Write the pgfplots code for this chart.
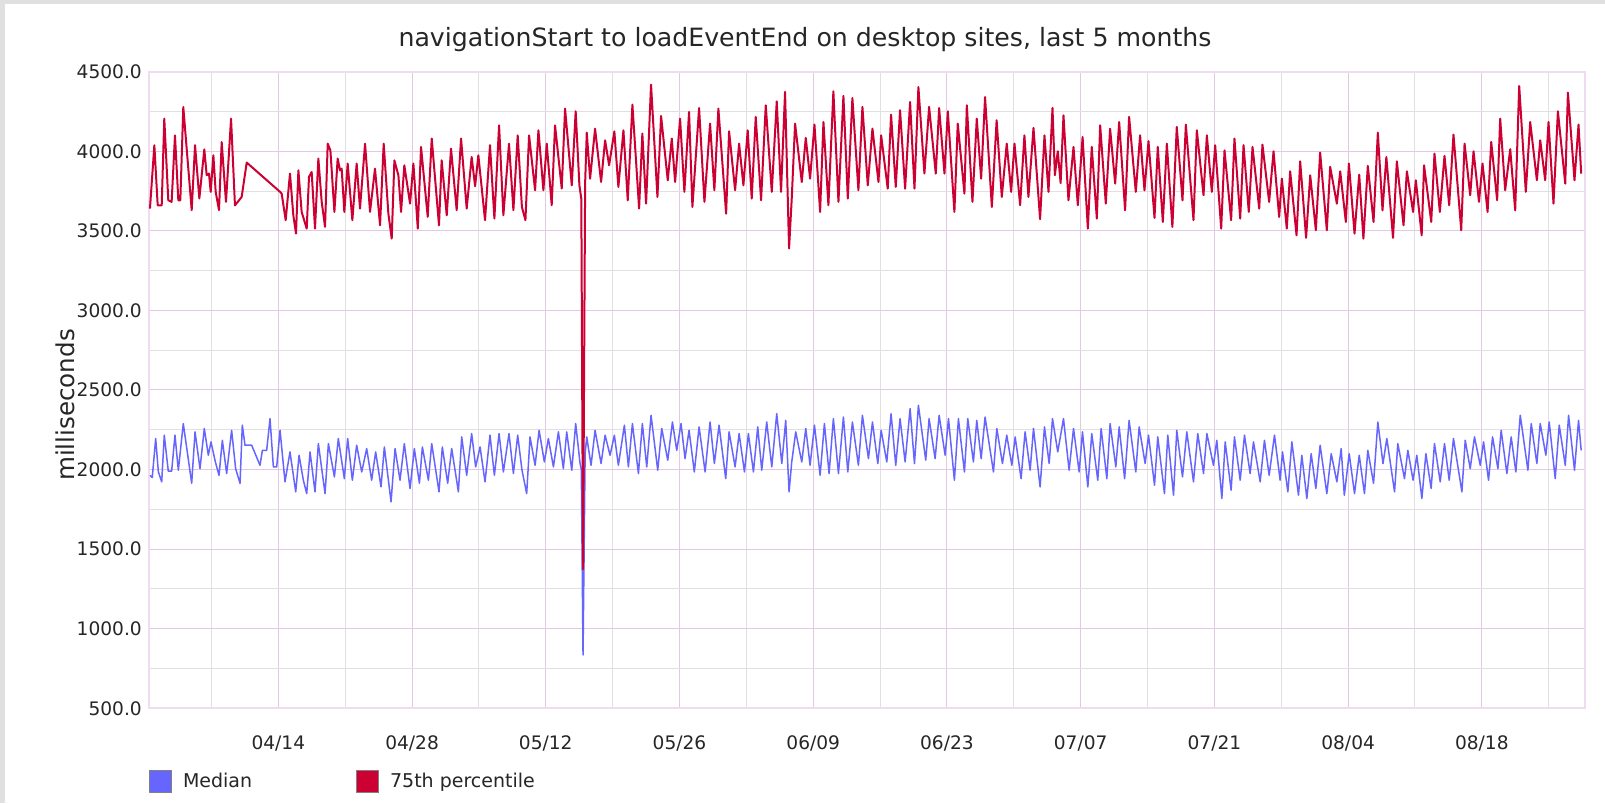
\documentclass[border=0pt]{standalone}
\usepackage{fontspec}
\setmainfont{DejaVu Sans}
\usepackage{pgfplots}
\pgfplotsset{compat=1.18}
\definecolor{medblue}{RGB}{102,102,255}
\definecolor{pctred}{RGB}{204,0,51}
\definecolor{gridmaj}{RGB}{226,200,226}
\definecolor{gridmin}{RGB}{226,222,226}
\definecolor{framec}{RGB}{240,220,240}
\definecolor{bordergray}{RGB}{224,224,224}
\begin{document}
\begin{tikzpicture}
\fill[bordergray] (0,0) rectangle (802.5pt,401.5pt);
\fill[white] (2.5pt,0) rectangle (802.5pt,399.5pt);
\useasboundingbox (0,0) rectangle (802.5pt,401.5pt);
\node[anchor=base, font=\fontsize{12.6}{15}\selectfont, text=black!85] at (402.5pt,378pt) {navigationStart to loadEventEnd on desktop sites, last 5 months};
\node[anchor=base, rotate=90, font=\fontsize{12.3}{15}\selectfont, text=black!85] at (37pt,199pt) {milliseconds};
\begin{axis}[
  at={(74.5pt,47.35pt)}, anchor=south west,
  scale only axis, width=718pt, height=318.3pt,
  xmin=-13.54, xmax=136.8, ymin=500, ymax=4500,
  xtick={0,14,...,126},
  xticklabels={04/14,04/28,05/12,05/26,06/09,06/23,07/07,07/21,08/04,08/18},
  minor xtick={-7,7,21,35,49,63,77,91,105,119,133},
  ytick={500,1000,...,4500},
  minor ytick={750,1250,...,4250},
  grid=both,
  major grid style={color=gridmaj, line width=0.5pt},
  minor grid style={color=gridmin, line width=0.5pt},
  axis line style={color=framec, line width=1pt},
  major tick length=0pt, minor tick length=0pt,
  tick style={draw=none},
  /pgf/number format/assume math mode=true,
  ticklabel style={font=\fontsize{9.3}{11}\selectfont, text=black!85},
  yticklabel style={anchor=east, inner sep=0pt, xshift=-3.4pt,
    /pgf/number format/fixed, /pgf/number format/fixed zerofill,
    /pgf/number format/precision=1, /pgf/number format/1000 sep={}},
  xticklabel style={anchor=base, yshift=-20.35pt},
  legend style={at={(rel axis cs:0,0)}, anchor=north west, yshift=-30.85pt,
    draw=none, fill=none, inner sep=0pt, outer sep=0pt,
    font=\fontsize{9.5}{11}\selectfont, text=black!85,
    /tikz/every even column/.append style={column sep=52pt},
    /tikz/every odd column/.append style={column sep=5.5pt},
    nodes={inner sep=0pt}},
  legend columns=2,
  legend cell align=left,
]
\addplot[color=medblue, line width=0.75pt, line join=round,
  legend image code/.code={\filldraw[fill=medblue, draw=gray, line width=0.5pt] (0pt,-5.5pt) rectangle (11pt,5.5pt);}]
coordinates {
(-13.44,1964)(-13.2,1950)(-12.84,2195)(-12.56,1985)(-12.21,1923)(-11.94,2216)(-11.52,1990)(-11.17,1990)(-10.82,2216)(-10.47,1996)(-9.95,2289)(-9.07,1914)(-8.72,2237)(-8.20,2006)(-7.75,2258)(-7.33,2090)(-7.05,2174)(-6.6,2050)(-6.21,1964)(-5.86,2184)(-5.41,1975)(-4.89,2247)(-4.47,2006)(-4.01,1914)(-3.77,2279)(-3.49,2153)(-2.79,2153)(-1.92,2027)(-1.67,2121)(-1.22,2121)(-0.87,2320)(-0.52,2017)(-0.17,2017)(0.18,2247)(0.70,1923)(1.22,2111)(1.82,1860)(2.17,2090)(2.62,1933)(2.97,1849)(3.32,2111)(3.84,1860)(4.19,2163)(4.89,1849)(5.24,2163)(5.87,1954)(6.28,2195)(6.91,1943)(7.26,2195)(7.75,1933)(8.20,2153)(8.73,1985)(9.25,2132)(9.77,1933)(10.19,2111)(10.75,1891)(11.10,2142)
(11.80,1797)(12.22,2132)(12.74,1933)(13.19,2163)(13.79,1881)(14.24,2132)(14.77,1914)(15.08,2142)(15.71,1933)(16.06,2163)(16.82,1860)(17.17,2142)(17.73,1914)(18.15,2132)(18.85,1860)(19.20,2205)(19.72,1964)(20.24,2226)(20.66,2017)(21.12,2142)(21.64,1923)(22.16,2216)(22.62,1964)(23.11,2226)(23.56,1985)(24.15,2226)(24.61,1975)(25.06,2216)(25.5,2000)(26.00,1849)(26.35,2205)(26.88,2027)(27.30,2247)(27.85,2048)(28.27,2195)(28.80,2017)(29.32,2237)(29.84,2006)(30.19,2237)(30.72,1996)(31.13,2289)(31.59,2038)(31.72,2000)(31.9,835)(32.12,2100)(32.29,2205)(32.74,2027)(33.16,2247)(33.79,2038)(34.21,2216)(34.73,2090)(35.18,2216)(35.60,2027)(36.23,2279)(36.65,2017)
(37.07,2289)(37.70,1975)(38.11,2289)(38.57,2017)(39.02,2341)(39.72,1996)(40.14,2258)(40.77,2059)(41.26,2299)(41.71,2121)(42.16,2289)(42.58,2069)(43.00,2247)(43.55,1985)(44.05,2268)(44.68,1985)(45.20,2299)(45.65,2038)(46.14,2279)(46.84,1943)(47.19,2237)(47.82,2017)(48.24,2226)(48.80,1985)(49.21,2226)(49.74,1985)(50.19,2268)(50.61,1996)(51.13,2299)(51.66,2017)(52.18,2351)(52.71,2038)(53.12,2309)(53.47,1860)(53.75,2048)(54.17,2237)(54.80,2048)(55.22,2258)(55.67,2027)(56.13,2279)(56.72,1964)(57.17,2289)(57.66,1975)(58.11,2320)(58.64,1975)(59.16,2330)(59.62,1985)(60.10,2299)(60.73,2027)(61.15,2341)(61.78,2069)
(62.20,2299)(62.76,2038)(63.11,2247)(63.70,2048)(64.15,2351)(64.64,2027)(65.09,2320)(65.62,2048)(66.14,2383)(66.60,2038)(67.01,2404)(67.78,2059)(68.13,2320)(68.76,2069)(69.18,2341)(69.81,2090)(70.16,2320)(70.78,1933)(71.20,2320)(71.83,1985)(72.18,2320)(72.77,2048)(73.12,2309)(73.58,2069)(73.99,2330)(74.87,1985)(75.22,2258)(75.81,2038)(76.26,2216)(76.79,2027)(77.14,2205)(77.76,1943)(78.18,2237)(78.71,1996)(79.06,2258)(79.75,1891)(80.21,2268)(80.70,2038)(81.05,2320)(81.60,2111)(82.20,2320)(82.79,1996)(83.25,2258)(83.84,1985)(84.19,2237)(84.75,1891)(85.16,2226)(85.79,1933)(86.14,2258)(86.74,1943)
(87.08,2289)(87.68,2017)(88.03,2268)(88.6,1943)(89.07,2309)(89.77,1985)(90.12,2268)(90.75,2038)(91.10,2216)(91.73,1902)(92.07,2205)(92.77,1849)(93.12,2216)(93.72,1839)(94.06,2247)(94.66,1954)(95.11,2237)(95.81,1923)(96.26,2226)(96.86,1975)(97.21,2226)(97.90,2027)(98.25,2184)(98.78,1818)(99.13,2174)(99.75,1870)(100.10,2205)(100.70,1933)(101.15,2216)(101.74,1975)(102.09,2174)(102.79,1923)(103.24,2184)(103.73,1964)(104.29,2216)(104.88,1933)(105.13,2111)(105.69,1860)(106.11,2174)(106.80,1839)(107.15,2090)(107.68,1818)(108.13,2100)(108.62,1881)(109.07,2153)(109.77,1849)(110.23,2100)(110.82,1923)(111.27,2132)(111.6,1839)
(112.11,2100)(112.67,1849)(113.16,2090)(113.71,1849)(114.06,2121)(114.66,1914)(115.11,2299)(115.65,2038)(116.05,2195)(116.86,1860)(117.20,2163)(117.90,1943)(118.25,2121)(118.8,1933)(119.19,2090)(119.72,1818)(120.14,2100)(120.69,1881)(121.04,2163)(121.64,1923)(122.09,2163)(122.58,1933)(123.03,2195)(123.91,1860)(124.26,2184)(124.78,2006)(125.23,2205)(125.83,2027)(126.18,2174)(126.70,1933)(127.12,2205)(127.68,2006)(128.02,2247)(128.62,1975)(129.07,2205)(129.56,1985)(130.02,2341)(130.82,1996)(131.17,2289)(131.76,2038)(132.11,2289)(132.70,2090)(133.05,2299)(133.68,1943)(134.10,2279)(134.73,2027)(135.08,2341)(135.70,1996)(136.12,2309)(136.40,2121)
};
\addlegendentry{Median}
\addplot[color=pctred, line width=1pt, line join=round,
  legend image code/.code={\filldraw[fill=pctred, draw=gray, line width=0.5pt] (0pt,-5.5pt) rectangle (11pt,5.5pt);}]
coordinates {
(-13.44,3640)(-12.98,4038)(-12.63,3660)(-12.21,3660)(-11.94,4205)(-11.52,3692)(-11.17,3682)(-10.82,4100)(-10.47,3692)(-10.26,3692)(-9.95,4278)(-9.07,3630)(-8.72,4038)(-8.27,3703)(-7.75,4012)(-7.50,3850)(-7.26,3860)(-7.08,3745)(-6.80,3975)(-6.56,3745)(-6.21,3630)(-5.93,4058)(-5.48,3682)(-4.95,4205)(-4.54,3660)(-3.84,3713)(-3.31,3929)(0.18,3745)(0.35,3734)(0.77,3567)(1.22,3860)(1.57,3598)(1.85,3483)(2.10,3880)(2.44,3619)(2.97,3514)(3.21,3839)(3.49,3870)(3.84,3514)(4.19,3954)(4.54,3682)(4.89,3525)(5.17,4048)(5.45,4006)(5.87,3619)(6.21,3954)(6.46,3880)(6.63,3891)(6.91,3619)(7.26,3923)(7.75,3567)(8.20,3923)(8.55,3640)(9.08,4048)(9.60,3619)(10.12,3891)(10.65,3535)(11.03,4048)
(11.52,3608)(11.87,3451)(12.15,3943)(12.57,3849)(12.85,3619)(13.19,3912)(13.79,3671)(14.14,3923)(14.6,3514)(14.94,4027)(15.64,3588)(16.06,4080)(16.82,3535)(17.10,3943)(17.63,3598)(18.08,4017)(18.67,3630)(19.13,4080)(19.72,3640)(20.24,3964)(20.6,3780)(20.94,3975)(21.64,3567)(22.16,4038)(22.62,3577)(23.11,4163)(23.56,3598)(24.15,4048)(24.61,3630)(25.06,4100)(25.5,3650)(25.87,3567)(26.25,4100)(26.88,3755)(27.23,4132)(27.75,3755)(28.10,4048)(28.62,3661)(28.97,4163)(29.67,3766)(30.02,4268)(30.72,3786)(31.13,4251)(31.52,3786)(31.72,3700)(31.9,1375)(32.12,3800)(32.29,4117)(32.64,3828)(33.16,4142)(33.79,3807)(34.21,4069)(34.63,3912)(35.18,4125)(35.60,3776)(36.13,4132)(36.58,3692)
(37.07,4293)(37.77,3640)(38.11,4111)(38.5,3671)(39.02,4419)(39.69,3713)(40.07,4222)(40.77,3818)(41.19,4080)(41.54,3807)(42.06,4205)(42.51,3745)(43.00,4247)(43.35,3650)(44.05,4272)(44.61,3682)(45.20,4174)(45.65,3755)(46.07,4268)(46.88,3608)(47.19,4126)(47.82,3755)(48.24,4048)(48.69,3786)(49.14,4132)(49.56,3703)(49.98,4216)(50.54,3692)(51.03,4289)(51.66,3745)(52.18,4314)(52.63,3745)(53.05,4373)(53.47,3389)(53.75,3703)(54.10,4174)(54.80,3807)(55.22,4084)(55.67,3828)(56.13,4168)(56.72,3619)(57.07,4184)(57.59,3661)(58.11,4377)(58.64,3682)(59.16,4348)(59.62,3703)(60.10,4335)(60.73,3755)(61.15,4279)(61.71,3786)
(62.20,4142)(62.83,3807)(63.11,4100)(63.80,3765)(64.15,4230)(64.64,3776)(65.09,4258)(65.62,3765)(66.14,4310)(66.60,3765)(67.01,4404)(67.64,3860)(68.13,4279)(68.83,3860)(69.18,4272)(69.74,3860)(70.09,4251)(70.78,3619)(71.13,4174)(71.83,3734)(72.08,4289)(72.67,3682)(73.12,4205)(73.58,3828)(73.99,4341)(74.7,3650)(75.2,4195)(75.74,3713)(76.26,4048)(76.72,3745)(77.07,4048)(77.66,3661)(78.11,4100)(78.53,3713)(79.06,4147)(79.75,3573)(80.21,4100)(80.63,3745)(81.05,4272)(81.3,3850)(81.6,4000)(81.9,3800)(82.20,4226)(82.72,3692)(83.25,4027)(83.7,3661)(84.2,4090)(84.75,3514)(85.16,4027)(85.69,3577)(86.04,4163)(86.63,3671)
(87.08,4142)(87.61,3797)(88.03,4184)(88.65,3629)(89.07,4216)(89.77,3745)(90.22,4100)(90.68,3755)(91.10,4063)(91.73,3581)(92.07,4027)(92.6,3556)(93.02,4048)(93.6,3525)(94.06,4153)(94.66,3692)(95.01,4168)(95.81,3567)(96.16,4132)(96.86,3724)(97.21,4100)(97.73,3745)(98.08,4038)(98.71,3514)(99.06,4006)(99.75,3567)(100.10,4080)(100.70,3577)(101.05,4038)(101.6,3619)(101.99,4027)(102.69,3640)(103.03,4042)(103.73,3682)(104.19,4000)(104.78,3587)(105.06,3828)(105.58,3514)(105.93,3874)(106.6,3472)(106.98,3937)(107.6,3456)(108.03,3849)(108.62,3504)(109.07,3992)(109.77,3504)(110.12,3902)(110.82,3671)(111.17,3874)(111.76,3556)(112.08,3923)
(112.67,3483)(113.16,3853)(113.6,3451)(114.06,3908)(114.66,3556)(115.11,4117)(115.6,3629)(116.0,3964)(116.7,3456)(117.1,3937)(117.8,3535)(118.15,3874)(118.8,3619)(119.09,3818)(119.7,3472)(119.95,3912)(120.7,3556)(121.04,3985)(121.6,3619)(122.09,3971)(122.58,3661)(123.03,4105)(123.84,3504)(124.19,4048)(124.78,3724)(125.13,4000)(125.7,3682)(126.07,3923)(126.6,3619)(126.98,4059)(127.6,3692)(127.92,4205)(128.44,3755)(128.97,4013)(129.49,3629)(129.91,4410)(130.6,3745)(131.06,4184)(131.76,3818)(132.11,4069)(132.63,3818)(132.98,4184)(133.5,3671)(133.96,4251)(134.73,3797)(135.01,4369)(135.70,3818)(136.12,4168)(136.40,3860)
};
\addlegendentry{75th percentile}
\end{axis}
\end{tikzpicture}
\end{document}
